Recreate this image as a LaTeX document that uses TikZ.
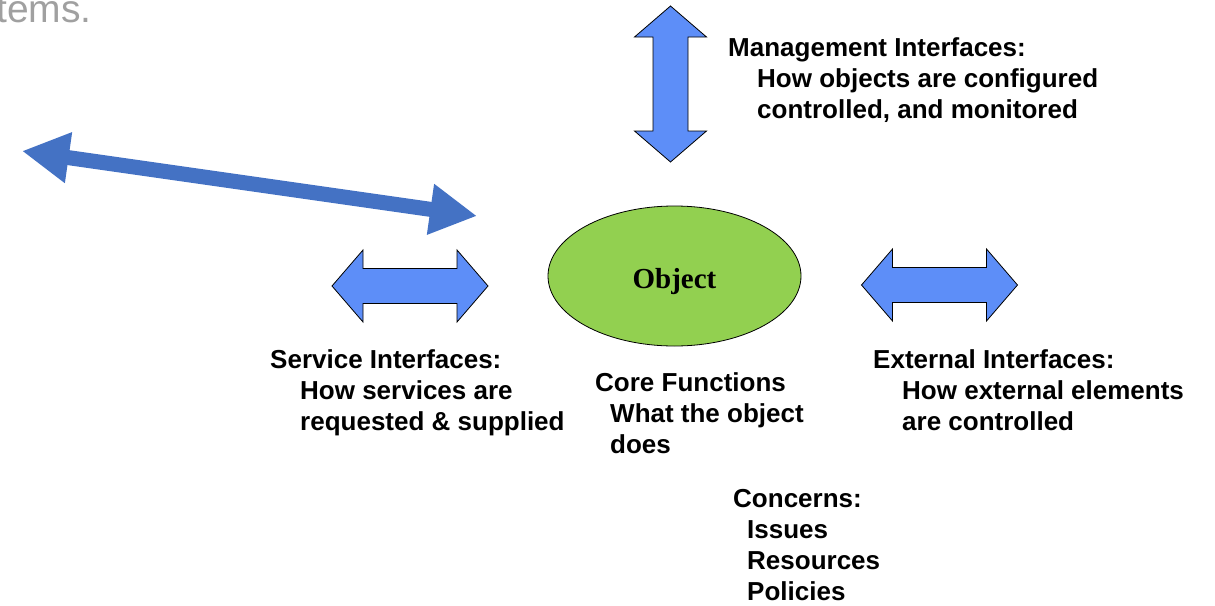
\documentclass[tikz,border=0pt]{standalone}
\usepackage{fontspec}
\setmainfont{Liberation Sans}
\newfontfamily\objfont{Liberation Serif}
\usetikzlibrary{shapes.geometric,arrows.meta}
\definecolor{blockblue}{RGB}{93,142,248}
\definecolor{darkblue}{RGB}{68,114,196}
\definecolor{objgreen}{RGB}{146,208,80}
\definecolor{graytext}{RGB}{160,160,160}
\begin{document}
\begin{tikzpicture}[x=1pt,y=-1pt,
  lbl/.style={anchor=base west, inner sep=0pt, font=\fontsize{26}{31}\selectfont\bfseries},
  blockarrow/.pic={\draw[fill=blockblue, draw=black, line width=0.8pt]
     (-78,0) -- (-47,36) -- (-47,17.5) -- (47,17.5) -- (47,36) -- (78,0)
     -- (47,-36) -- (47,-17.5) -- (-47,-17.5) -- (-47,-36) -- cycle;},
  bigarrow/.style={darkblue, line width=15pt,
     arrows={Triangle[length=47pt,width=48pt]-Triangle[length=47pt,width=48pt]}}
]
\useasboundingbox (0,0) rectangle (1215,605);

% partial heading
\node[anchor=base east, inner sep=0pt, text=graytext,
      font=\fontsize{39}{41}\selectfont] (head) at (92,22) {tems.};

% long diagonal arrow
\coordinate (la) at (22,151);
\coordinate (lb) at (477,216);
\draw[bigarrow] (la) -- (lb);

% block arrows
\pic (mgmt) at (670.5,84) [rotate=90] {blockarrow};
\pic (serv) at (410,286) {blockarrow};
\pic (ext)  at (939.5,285) {blockarrow};

% object
\node[ellipse, draw=black, line width=0.8pt, fill=objgreen,
      minimum width=253pt, minimum height=140pt, inner sep=0pt,
      text height=24pt, text depth=0pt,
      font=\objfont\bfseries\fontsize{29}{31}\selectfont] (obj) at (674.5,276) {Object};

% management
\node[lbl] (m1) at (728,56)  {Management Interfaces:};
\node[lbl] (m2) at (757,87)  {How objects are configured};
\node[lbl] (m3) at (757,118) {controlled, and monitored};

% service
\node[lbl] (s1) at (270,368) {Service Interfaces:};
\node[lbl] (s2) at (300,399) {How services are};
\node[lbl] (s3) at (300,430) {requested \& supplied};

% core
\node[lbl] (c1) at (595,391) {Core Functions};
\node[lbl] (c2) at (610,422) {What the object};
\node[lbl] (c3) at (610,453) {does};

% external
\node[lbl] (e1) at (873,368) {External Interfaces:};
\node[lbl] (e2) at (902,399) {How external elements};
\node[lbl] (e3) at (902,430) {are controlled};

% concerns
\node[lbl] (k1) at (733,507) {Concerns:};
\node[lbl] (k2) at (747,538) {Issues};
\node[lbl] (k3) at (747,569) {Resources};
\node[lbl] (k4) at (747,600) {Policies};
\end{tikzpicture}
\end{document}
